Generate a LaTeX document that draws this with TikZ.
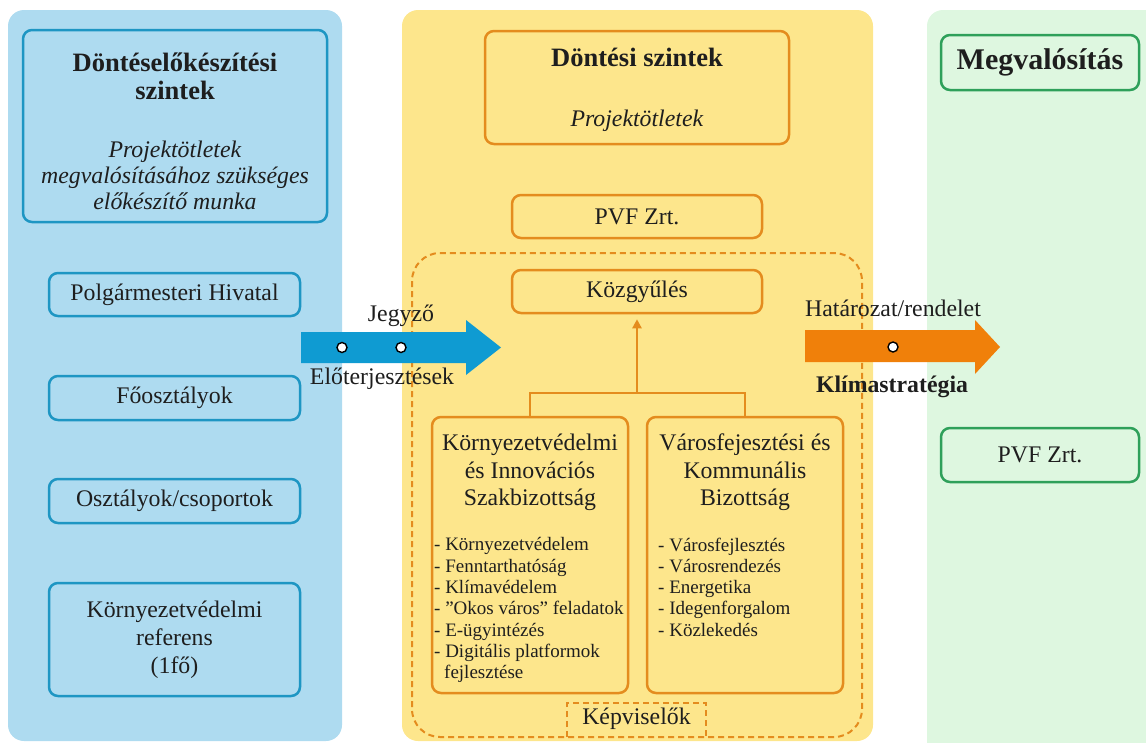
\documentclass[tikz,border=0pt]{standalone}
\usepackage{fontspec}
\setmainfont{Liberation Serif}
\usetikzlibrary{positioning,arrows.meta}

\definecolor{panelblue}{RGB}{174,219,240}
\definecolor{boxblue}{RGB}{30,150,195}
\definecolor{arrowblue}{RGB}{15,155,210}
\definecolor{panelyellow}{RGB}{253,230,140}
\definecolor{boxorange}{RGB}{228,140,30}
\definecolor{arroworange}{RGB}{240,128,10}
\definecolor{panelgreen}{RGB}{222,247,224}
\definecolor{boxgreen}{RGB}{46,160,90}
\definecolor{txt}{RGB}{30,30,30}

\newcommand{\ttlfont}{\fontsize{26.5}{30}\selectfont\bfseries}
\newcommand{\mainfont}{\fontsize{23.8}{28}\selectfont}

\tikzset{
  panel/.style={rounded corners=16pt},
  box/.style={line width=2.5pt, rounded corners=9pt, align=center, inner sep=0pt, text=txt, font=\mainfont},
  bluebox/.style={box, draw=boxblue, fill=panelblue, minimum width=251pt, minimum height=43pt},
  orangebox/.style={box, draw=boxorange, fill=panelyellow, minimum width=250pt, minimum height=43pt},
  greenbox/.style={box, draw=boxgreen, fill=panelgreen, minimum width=198pt, minimum height=54pt},
  hole/.style={circle, draw=black, fill=white, line width=1.4pt, minimum size=10pt, inner sep=0pt},
  itemlist/.style={align=left, inner sep=0pt, text=txt, font=\fontsize{19}{21.3}\selectfont},
  label/.style={inner sep=0pt, text=txt, font=\mainfont},
  dashline/.style={draw=boxorange, line width=2pt, dash pattern=on 6pt off 4pt},
  conn/.style={draw=boxorange, line width=2.5pt},
}

\begin{document}
\begin{tikzpicture}[x=1pt, y=-1pt]
\useasboundingbox (0,0) rectangle (1146,742);
\clip (0,0) rectangle (1146,742);

% columns
\fill[panelblue, panel] (8,10) rectangle (342,741);
\fill[panelyellow, panel] (402,10) rectangle (873,741);
\fill[panelgreen, panel] (927,10) rectangle (1180,780);

% preparation levels
\node[bluebox, minimum width=304pt, minimum height=192pt] (prep) at (175,126) {};
\node[label, align=center, font=\fontsize{23.8}{26}\selectfont] (preptxt) at ([yshift=-5pt]prep.center)
  {{\ttlfont Döntéselőkészítési}\\[2pt]{\ttlfont szintek}\\[32pt]
   \textit{Projektötletek}\\ \textit{megvalósításához szükséges}\\ \textit{előkészítő munka}};
\node[bluebox] (hivatal) at (174.5,294.5) {Polgármesteri Hivatal};
\node[bluebox, minimum height=44pt] (foo) at (174.5,398) {Főosztályok};
\node[bluebox, minimum height=44pt] (oszt) at (174.5,501) {Osztályok/csoportok};
\node[bluebox, minimum height=113pt] (referens) at (174.5,639.5) {Környezetvédelmi\\ referens\\ (1fő)};

% decision levels
\node[orangebox, minimum width=304pt, minimum height=113pt] (dont) at (637,87.5) {};
\node[label, align=center] (donttxt) at ([yshift=-2pt]dont.center)
  {{\ttlfont Döntési szintek}\\[32pt]\textit{Projektötletek}};
\node[orangebox] (pvf) at (637,216.5) {PVF Zrt.};
\draw[dashline, rounded corners=28pt] (412,253) rectangle (862,737);
\node[orangebox] (kozgy) at (637,291.5) {Közgyűlés};

\node[orangebox, minimum width=196pt, minimum height=276pt] (kbiz) at (530,555) {};
\node[orangebox, minimum width=196pt, minimum height=276pt] (vbiz) at (745,555) {};
\node[label, align=center, font=\fontsize{23.8}{27.5}\selectfont, below=18pt of kbiz.north] (kbizttl) {Környezetvédelmi\\ és Innovációs\\ Szakbizottság};
\node[label, align=center, font=\fontsize{23.8}{27.5}\selectfont, below=18pt of vbiz.north] (vbizttl) {Városfejesztési és\\ Kommunális\\ Bizottság};
\node[itemlist, anchor=north west] (kbizlist) at (434,537.5) {- Környezetvédelem\\ - Fenntarthatóság\\ - Klímavédelem\\
  - ”Okos város” feladatok\\ - E-ügyintézés\\ - Digitális platformok\\ \hspace*{10pt}fejlesztése};
\node[itemlist, anchor=north west] (vbizlist) at (658,537.5) {- Városfejlesztés\\ - Városrendezés\\ - Energetika\\
  - Idegenforgalom\\ - Közlekedés};

\coordinate (bar) at (637,393);
\draw[conn] (kbiz.north) |- (bar) -| (vbiz.north);
\draw[conn, -{Triangle[length=9pt, width=9pt]}, shorten >=5pt] (bar) -- (kozgy.south);

\node[label] (kepv) at (636.5,719) {Képviselők};
\draw[dashline] (567,737) |- (706,703) -- (706,737);

% implementation
\node[greenbox, minimum height=55pt] (megval) at (1040,62.5) {\fontsize{30}{34}\selectfont\bfseries Megvalósítás};
\node[greenbox] (pvf2) at (1040,455) {PVF Zrt.};

% flows
\fill[arrowblue] (301,332) -- (466,332) -- (466,320) -- (501,347.5) -- (466,375) -- (466,363) -- (301,363) -- cycle;
\node[hole] (h1) at (342,347.5) {};
\node[hole] (h2) at (401,347.5) {};
\node[label] (jegyzo) at (401,316) {Jegyző};
\node[label] (eloterj) at (382,379) {Előterjesztések};

\fill[arroworange] (805,330) -- (975,330) -- (975,320) -- (1000,347) -- (975,374) -- (975,362) -- (805,362) -- cycle;
\node[hole] (h3) at (893,347) {};
\node[label] (hatarozat) at (893,308) {Határozat/rendelet};
\node[label, font=\mainfont\bfseries] (klima) at (892,387) {Klímastratégia};
\end{tikzpicture}
\end{document}
